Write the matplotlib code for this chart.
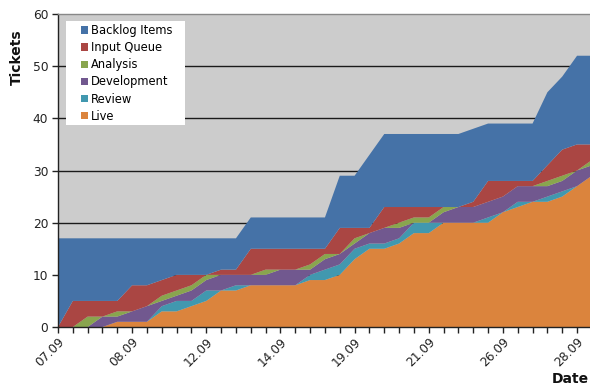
import matplotlib
matplotlib.use("Agg")
import matplotlib.pyplot as plt
from matplotlib.patches import Patch, Rectangle
import numpy as np

# Ticket counts per snapshot, stacked bottom (Live) to top (Backlog Items)
live = [0, 0, 0, 0, 1, 1, 1, 3, 3, 4, 5, 7, 7, 8, 8, 8, 8, 9, 9, 10,
        13, 15, 15, 16, 18, 18, 20, 20, 20, 20, 22, 23, 24, 24, 25, 27, 29]
review = [0, 0, 0, 0, 0, 0, 0, 1, 2, 1, 2, 0, 1, 0, 0, 0, 0, 1, 2, 2,
          2, 1, 1, 1, 2, 2, 0, 0, 0, 1, 0, 1, 0, 1, 1, 0, 0]
development = [0, 0, 0, 2, 1, 2, 3, 1, 1, 2, 2, 3, 2, 2, 2, 3, 3, 1, 2, 2,
               1, 2, 3, 2, 0, 0, 2, 3, 3, 3, 3, 3, 3, 2, 2, 3, 2]
analysis = [0, 0, 2, 0, 1, 0, 0, 1, 1, 1, 1, 0, 0, 0, 1, 0, 0, 1, 1, 0,
            1, 0, 0, 1, 1, 1, 1, 0, 0, 0, 0, 0, 0, 1, 1, 0, 1]
input_queue = [0, 5, 3, 3, 2, 5, 4, 3, 3, 2, 0, 1, 1, 5, 4, 4, 4, 3, 1, 5,
               2, 1, 4, 3, 2, 2, 0, 0, 1, 4, 3, 1, 1, 3, 5, 5, 3]
backlog = [17, 12, 12, 12, 12, 9, 9, 8, 7, 7, 7, 6, 6, 6, 6, 6, 6, 6, 6, 10,
           10, 14, 14, 14, 14, 14, 14, 14, 14, 11, 11, 11, 11, 14, 14, 17, 17]

series_names = ["Live", "Review", "Development", "Analysis", "Input Queue", "Backlog Items"]
series_colors = ["#DB843D", "#4198AF", "#71588F", "#89A54E", "#AA4643", "#4572A7"]

# Date labels shown on every fifth snapshot
tick_labels = ["07.09", "08.09", "12.09", "14.09", "19.09", "21.09", "26.09", "28.09"]
label_step = 5

plt.rcParams["font.family"] = ["DejaVu Sans"]

W, H = 590, 385
fig = plt.figure(figsize=(W / 100, H / 100), dpi=100)
n = len(live)
step_px = 14.83
ax_left, ax_bottom, ax_w, ax_h = 58, 58, (n - 1) * step_px, 313
ax = fig.add_axes([ax_left / W, ax_bottom / H, ax_w / W, ax_h / H])
ax.set_facecolor("#CCCCCC")

x = np.arange(n)
ax.stackplot(x, live, review, development, analysis, input_queue, backlog,
             colors=series_colors, linewidth=0, zorder=2)

ax.set_xlim(0, n - 1)
ax.set_ylim(0, 60)

# y axis
ax.set_yticks(np.arange(0, 61, 10))
ax.tick_params(axis="y", direction="out", length=4, width=1, labelsize=8.8,
               colors="#222222", pad=3)
for yv in range(10, 60, 10):
    ax.axhline(yv, color="#1a1a1a", linewidth=1.0, zorder=1)

# x axis: tick on every snapshot, label on every fifth
ax.set_xticks(x, minor=True)
major_pos = list(range(0, n, label_step))[:len(tick_labels)]
ax.set_xticks(major_pos)
ax.set_xticklabels(tick_labels, rotation=45, ha="right", va="top",
                   rotation_mode="anchor", fontsize=8.8, color="#222222")
ax.tick_params(axis="x", which="both", direction="out", length=4, width=1,
               colors="#222222", pad=2)

ax.spines["right"].set_visible(False)
ax.spines["top"].set_color("#888888")
ax.spines["top"].set_linewidth(1.0)
for side in ("left", "bottom"):
    ax.spines[side].set_color("#222222")
    ax.spines[side].set_linewidth(1.0)

fig.text(17 / W, 1 - 57 / H, "Tickets", rotation=90, ha="center", va="center",
         fontsize=10, fontweight="bold", color="#111111")
fig.text(589 / W, 1 - 379 / H, "Date", ha="right", va="center",
         fontsize=10, fontweight="bold", color="#111111")


def to_ax(px, py):
    """Figure pixel (from top-left) -> axes fraction."""
    return (px - ax_left) / ax_w, (H - py - ax_bottom) / ax_h


# white legend panel
x0, y1 = to_ax(66, 21)
x1, y0 = to_ax(185, 125)
ax.add_patch(Rectangle((x0, y0), x1 - x0, y1 - y0, transform=ax.transAxes,
                       facecolor="white", edgecolor="none", zorder=4))

handles = [Patch(facecolor=c, edgecolor="none") for c in series_colors[::-1]]
leg = ax.legend(handles, series_names[::-1], loc="upper left",
                bbox_to_anchor=to_ax(81, 24),
                borderaxespad=0, frameon=False, fontsize=8.3,
                handlelength=0.6, handleheight=0.6, handletextpad=0.25,
                labelspacing=0.36, borderpad=0)
leg.set_zorder(5)

fig.savefig("out.png", dpi=100)
